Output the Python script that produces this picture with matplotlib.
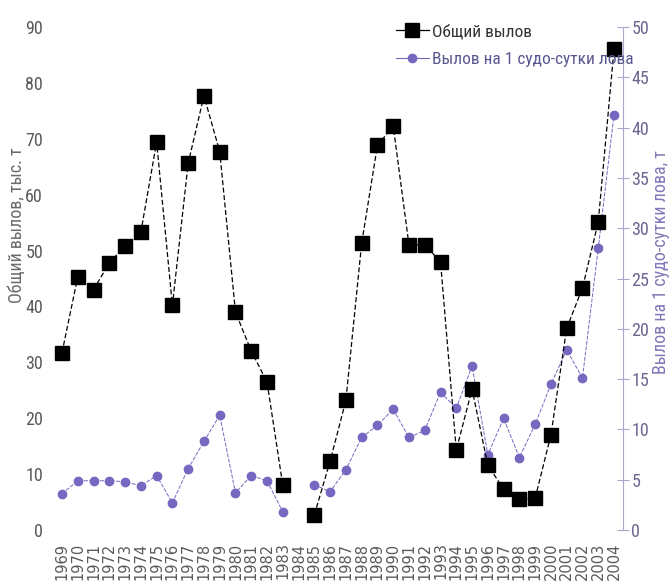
import numpy as np
import matplotlib.pyplot as plt
from matplotlib.lines import Line2D
from matplotlib import font_manager

years = list(range(1969, 2005))
# общий вылов, тыс. т (1984 - нет данных)
total_catch = [31.7, 45.3, 43.0, 47.8, 50.8, 53.3, 69.4, 40.2, 65.6, 77.7, 67.7, 39.0,
               32.0, 26.5, 8.0, np.nan, 2.7, 12.3, 23.2, 51.3, 68.8, 72.3, 51.0, 51.0,
               48.0, 14.3, 25.2, 11.6, 7.3, 5.5, 5.7, 17.0, 36.1, 43.3, 55.1, 86.0]
# вылов на 1 судо-сутки лова, т
catch_per_day = [3.6, 4.9, 4.9, 4.9, 4.8, 4.4, 5.4, 2.7, 6.1, 8.8, 11.4, 3.7,
                 5.4, 4.9, 1.8, np.nan, 4.5, 3.8, 6.0, 9.2, 10.4, 12.0, 9.2, 9.9,
                 13.7, 12.1, 16.3, 7.5, 11.1, 7.2, 10.5, 14.5, 17.9, 15.1, 28.0, 41.3]

# узкий шрифт, если есть
installed = set(f.name for f in font_manager.fontManager.ttflist)
fam, fs = 'Liberation Sans', 11
for name in ['Liberation Sans Narrow', 'DejaVu Sans Condensed', 'Roboto Condensed']:
    if name in installed:
        fam, fs = name, 13
        break
narrow = [fam, 'DejaVu Sans']

purple = '#7468c0'
gray = '#5a5a5a'
spine_c = '#aaa6cc'

fig = plt.figure(figsize=(6.7, 5.86), dpi=100)
W, H = 670, 586
ax = fig.add_axes([50 / W, (H - 530) / H, (623 - 50) / W, 503 / H])
ax2 = ax.twinx()
ax.set_zorder(2)
ax.patch.set_visible(False)

ax2.plot(years, catch_per_day, color=purple, lw=0.7, ls=(0, (4, 1.5)),
         marker='o', ms=6, mec=purple, mfc=purple)
ax.plot(years, total_catch, color='black', lw=0.9, ls=(0, (4, 2)),
        marker='s', ms=9.5, mec='black', mfc='black')

ax.set_xlim(1968.24, 2004.57)
ax.set_ylim(0, 90)
ax2.set_ylim(0, 50)

ax.set_xticks(years)
ax.set_xticklabels([str(y) for y in years], rotation=90, fontsize=10.5,
                   color=gray, family='DejaVu Sans')
ax.tick_params(axis='x', length=0, pad=9)
ax.set_yticks(range(0, 91, 10))
ax.tick_params(axis='y', length=0, pad=5, labelsize=fs, labelcolor=gray)
for t in ax.get_yticklabels():
    t.set_family(narrow)

ax2.set_yticks(range(0, 51, 5))
ax2.tick_params(axis='y', direction='inout', length=8, width=0.8, color=spine_c,
                pad=2, labelsize=fs, labelcolor='#6a6690')
for t in ax2.get_yticklabels():
    t.set_family(narrow)

for s in ['top', 'left', 'bottom', 'right']:
    ax.spines[s].set_visible(False)
    ax2.spines[s].set_visible(False)
ax2.spines['right'].set_visible(True)
ax2.spines['right'].set_color(spine_c)
ax2.spines['right'].set_linewidth(0.8)

fig.text(17 / W, 1 - 225 / H, 'Общий вылов, тыс. т', rotation=90, ha='center',
         va='center', fontsize=fs, color='#6a6a6a', family=narrow)
fig.text(661 / W, 1 - 262 / H, 'Вылов на 1 судо-сутки лова, т', rotation=90,
         ha='center', va='center', fontsize=fs, color='#8078b8', family=narrow)

handles = [Line2D([], [], color='black', lw=0.9, marker='s', ms=9.5),
           Line2D([], [], color=purple, lw=0.8, marker='o', ms=6)]
leg = ax.legend(handles, ['Общий вылов', 'Вылов на 1 судо-сутки лова'],
                loc='upper left', bbox_to_anchor=(380 / W, 1 - 8 / H),
                bbox_transform=fig.transFigure, frameon=False,
                handlelength=1.9, handletextpad=0.2, labelspacing=0.75,
                prop={'family': narrow, 'size': fs - 0.5},
                labelcolor=['#333333', '#5a5690'])

fig.savefig('out.png', dpi=100)
